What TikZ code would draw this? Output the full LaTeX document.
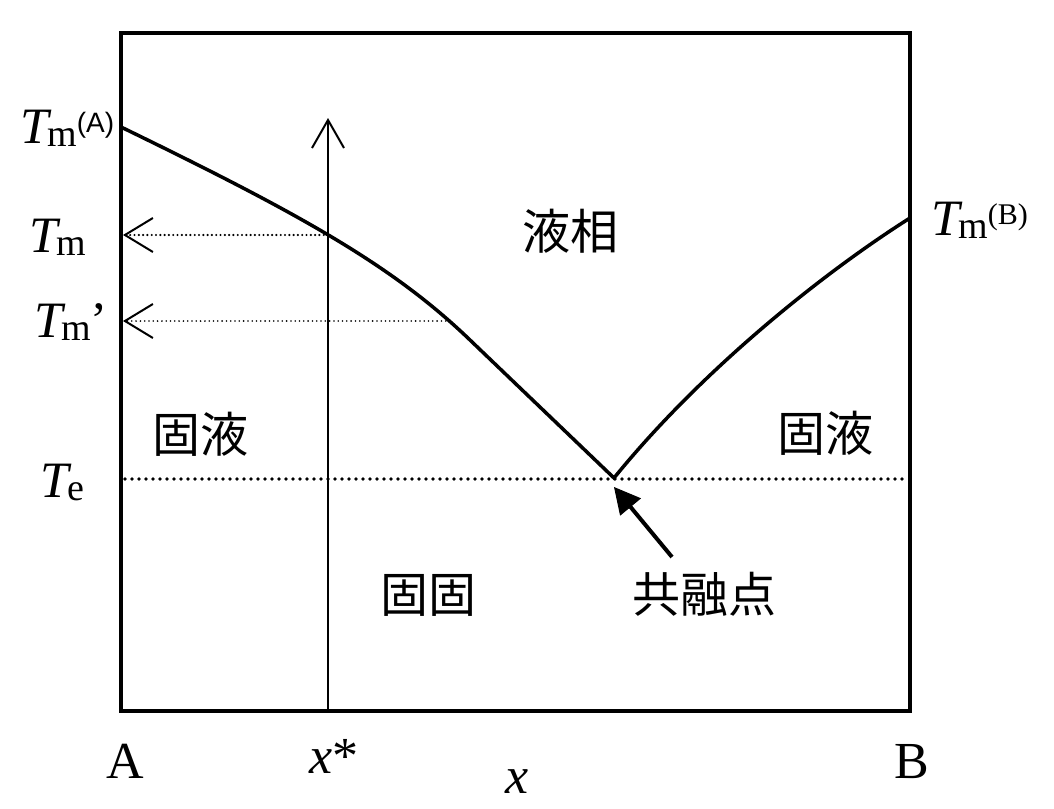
\documentclass[tikz,border=0pt]{standalone}
\usepackage{fontspec}
\setmainfont{Liberation Serif}
\newfontfamily\cjk{Noto Sans CJK JP}
\newfontfamily\lsans{Liberation Sans}
\usetikzlibrary{arrows.meta}
\newcommand{\bigfs}{\fontsize{51}{51}\selectfont}
\newcommand{\subfs}{\fontsize{38}{38}\selectfont}
\newcommand{\supfs}{\fontsize{30}{30}\selectfont}
\newcommand{\Tsym}[1]{{\bigfs\itshape T}\kern-1pt\raisebox{-3pt}{\subfs #1}}
\begin{document}
\begin{tikzpicture}[x=1pt,y=-1pt,
  lab/.style={inner sep=0pt,outer sep=0pt,anchor=base west},
  cjklab/.style={inner sep=0pt,outer sep=0pt,font=\cjk\fontsize{48}{48}\selectfont},
  axlab/.style={inner sep=0pt,outer sep=0pt,anchor=base,font=\fontsize{52}{52}\selectfont},
  curve/.style={line width=3.5pt,line join=miter},
  guideA/.style={line width=2.4pt,line cap=round,dash pattern=on 0pt off 4.3pt,
    -{Straight Barb[length=28pt,width=34pt,line width=2pt]}},
  guideB/.style={line width=1.8pt,line cap=round,dash pattern=on 0pt off 4.3pt,
    -{Straight Barb[length=28pt,width=34pt,line width=2pt]}},
  eutline/.style={line width=3.8pt,line cap=round,dash pattern=on 0pt off 7pt}
]
\useasboundingbox (0,0) rectangle (1054,808);
\fill[white] (0,0) rectangle (1054,808);

% coordinates
\coordinate (xb) at (328,711);
\coordinate (xt) at (328,118);
\coordinate (pm) at (328,235);
\coordinate (fm) at (123,235);
\coordinate (pm2) at (450,321);
\coordinate (fm2) at (123,321);
\coordinate (teL) at (125,479);
\coordinate (teR) at (907,479);
\coordinate (tA) at (121,127);
\coordinate (bend) at (470,340);
\coordinate (eu) at (614,478);
\coordinate (tB) at (910,218);
\coordinate (ea) at (672,557);
\coordinate (et) at (614,487);

% frame
\draw[line width=4pt] (121,33) rectangle (910,711);

% eutectic temperature
\draw[eutline] (teL) -- (teR);

% guide lines
\draw[guideA] (pm) -- (fm);
\draw[guideB] (pm2) -- (fm2);

% liquidus curves
\draw[curve] (tA) .. controls (300,214) and (392,265) .. (bend) -- (eu)
  .. controls (700,372) and (820,275) .. (tB);

% composition arrow
\draw[line width=2pt,-{Straight Barb[length=28pt,width=32pt,line width=2pt]}] (xb) -- (xt);

% eutectic point arrow
\draw[line width=4pt,-{Triangle[length=26pt,width=27pt,line width=1pt]}] (ea) -- (et);

% temperature labels
\node[lab] (tma) at (20,143) {\Tsym{m}\raisebox{11pt}{\lsans\fontsize{28}{28}\selectfont (A)}};
\node[lab] (tm) at (29,252) {\Tsym{m}};
\node[lab] (tmp) at (34,337) {\Tsym{m}{\bigfs ’}};
\node[lab] (te) at (40,497) {\Tsym{e}};
\node[lab] (tmb) at (931,235) {\Tsym{m}\raisebox{11pt}{\supfs (B)}};

% region labels
\node[cjklab] (liq) at (570,231) {液相};
\node[cjklab] (slL) at (200,434) {固液};
\node[cjklab] (slR) at (825,433) {固液};
\node[cjklab] (ss) at (428,595) {固固};
\node[cjklab] (eut) at (704,594) {共融点};

% axis labels
\node[axlab] (la) at (125,778) {A};
\node[axlab] (lxs) at (334,773) {\textit{x}*};
\node[axlab] (lx) at (517,793) {\textit{x}};
\node[axlab] (lb) at (912,778) {B};
\end{tikzpicture}
\end{document}
